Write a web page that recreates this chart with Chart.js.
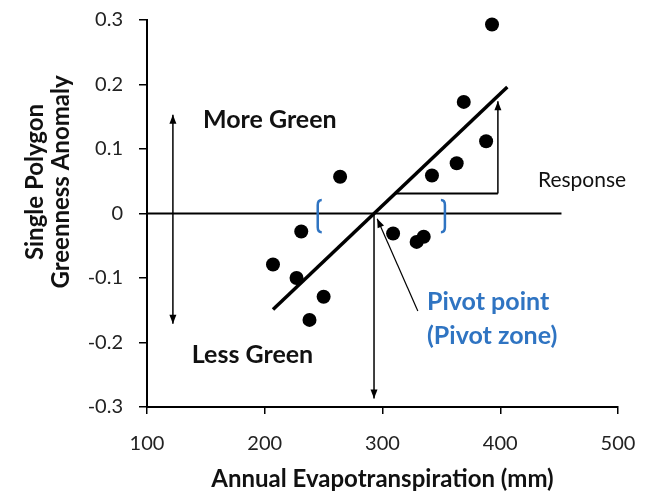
<!DOCTYPE html>
<html>
<head>
<meta charset="utf-8">
<script src="https://cdn.jsdelivr.net/npm/chart.js@4.4.1/dist/chart.umd.min.js"></script>
<style>
  html, body { margin: 0; padding: 0; background: #fff; }
</style>
</head>
<body>
<canvas id="myChart" width="652" height="495"></canvas>
<script>
// annual ET (mm) vs. greenness anomaly, one point per polygon-year
var etValues = [207, 227, 231, 238, 250, 264, 309, 329, 335, 342, 363, 369, 388, 393];
var anomalyValues = [-0.079, -0.100, -0.028, -0.165, -0.129, 0.057, -0.031, -0.044, -0.036, 0.059, 0.078, 0.173, 0.112, 0.293];

// fitted line, end points
var trendX = [207, 406];
var trendY = [-0.149, 0.196];

// zero reference line
var zeroX = [100, 452];
var zeroY = [0, 0];

var yTicks = [-0.3, -0.2, -0.1, 0, 0.1, 0.2, 0.3];
var yTickLabels = ['-0.3', '-0.2', '-0.1', '0', '0.1', '0.2', '0.3'];

// arrows, in axis units: [x1, y1, x2, y2]
var pivotDrop = [292.8, 0, 292.8, -0.287];
var greenArrow = [122, -0.171, 122, 0.153];
var responseRun = [311, 0.031, 398, 0.031];
var responseRise = [398, 0.031, 398, 0.174];
var pivotPointer = [330, -0.151, 295.5, -0.008];

// pivot zone brackets: x positions and vertical extent
var bracketX = [245, 353];
var bracketY = [0.021, -0.029];

var blue = '#2f74c2';

function toXY(xs, ys) {
    return xs.map(function (x, i) { return { x: x, y: ys[i] }; });
}

var notes = {
    id: 'notes',
    afterDatasetsDraw: function (chart) {
        var ctx = chart.ctx;
        var sx = chart.scales.x, sy = chart.scales.y;
        function px(v) { return sx.getPixelForValue(v); }
        function py(v) { return sy.getPixelForValue(v); }

        function head(x1, y1, x2, y2) {
            var a = Math.atan2(y2 - y1, x2 - x1);
            var len = 9, w = 3.5;
            ctx.beginPath();
            ctx.moveTo(x2, y2);
            ctx.lineTo(x2 - len * Math.cos(a) + w * Math.sin(a), y2 - len * Math.sin(a) - w * Math.cos(a));
            ctx.lineTo(x2 - len * Math.cos(a) - w * Math.sin(a), y2 - len * Math.sin(a) + w * Math.cos(a));
            ctx.closePath();
            ctx.fill();
        }
        function arrow(seg, startHead, endHead, lw) {
            var x1 = px(seg[0]), y1 = py(seg[1]), x2 = px(seg[2]), y2 = py(seg[3]);
            ctx.lineWidth = lw;
            ctx.beginPath();
            ctx.moveTo(x1, y1);
            ctx.lineTo(x2, y2);
            ctx.stroke();
            if (endHead) head(x1, y1, x2, y2);
            if (startHead) head(x2, y2, x1, y1);
        }

        ctx.save();
        ctx.strokeStyle = '#000';
        ctx.fillStyle = '#000';
        arrow(greenArrow, true, true, 1.5);
        arrow(pivotDrop, false, true, 1.5);
        arrow(responseRun, false, false, 2);
        arrow(responseRise, false, true, 1.5);
        arrow(pivotPointer, false, true, 1.2);

        // brackets around the pivot zone
        ctx.strokeStyle = blue;
        ctx.lineWidth = 2.5;
        bracketX.forEach(function (bx, i) {
            var x = px(bx), top = py(bracketY[0]), bot = py(bracketY[1]);
            var d = i === 0 ? 4 : -4;
            ctx.beginPath();
            ctx.moveTo(x + d, top);
            ctx.quadraticCurveTo(x, top, x, top + 5);
            ctx.lineTo(x, bot - 5);
            ctx.quadraticCurveTo(x, bot, x + d, bot);
            ctx.stroke();
        });

        // labels
        ctx.textBaseline = 'middle';
        ctx.textAlign = 'left';
        ctx.fillStyle = '#111';
        ctx.font = 'bold 25px Lato';
        ctx.fillText('More Green', px(147.5), py(0.145));
        ctx.fillText('Less Green', px(138), py(-0.219));
        ctx.font = '21px Lato';
        ctx.fillText('Response', px(432), py(0.052));
        ctx.fillStyle = blue;
        ctx.font = 'bold 25px Lato';
        ctx.fillText('Pivot point', px(337.8), py(-0.137));
        ctx.fillText('(Pivot zone)', px(337.8), py(-0.19));

        // y axis title, two lines
        ctx.fillStyle = '#111';
        ctx.font = 'bold 24px Lato';
        ctx.textAlign = 'center';
        ctx.translate(0, 182);
        ctx.rotate(-Math.PI / 2);
        ctx.fillText('Single Polygon', 0, 35);
        ctx.fillText('Greenness Anomaly', 0, 61);
        ctx.restore();
    }
};

var ctx = document.getElementById('myChart');
var myChart = new Chart(ctx, {
    type: 'scatter',
    data: {
        datasets: [{
            label: 'zero',
            data: toXY(zeroX, zeroY),
            showLine: true,
            borderColor: '#000',
            borderWidth: 2,
            pointRadius: 0
        }, {
            label: 'fit',
            data: toXY(trendX, trendY),
            showLine: true,
            borderColor: '#000',
            borderWidth: 3.5,
            pointRadius: 0
        }, {
            label: 'polygons',
            data: toXY(etValues, anomalyValues),
            backgroundColor: '#000',
            borderWidth: 0,
            pointRadius: 7,
            clip: false
        }]
    },
    options: {
        responsive: false,
        animation: false,
        layout: { padding: { top: 20, right: 34, left: 0, bottom: 0 } },
        plugins: {
            legend: { display: false },
            tooltip: { enabled: false }
        },
        scales: {
            x: {
                type: 'linear',
                min: 100,
                max: 500,
                ticks: { stepSize: 100, padding: 18, color: '#222', font: { family: 'Lato', size: 20 } },
                grid: { drawOnChartArea: false, drawTicks: true, tickLength: 7, color: '#000', lineWidth: 1.5 },
                border: { color: '#000', width: 2 },
                title: {
                    display: true,
                    text: 'Annual Evapotranspiration (mm)',
                    color: '#111',
                    font: { family: 'Lato', size: 24, weight: 'bold' },
                    padding: { top: 0, bottom: 1 }
                },
                afterFit: function (s) {
                    s.height = 88;
                    s.paddingLeft = 0;
                    s.paddingRight = 0;
                }
            },
            y: {
                type: 'linear',
                min: -0.3,
                max: 0.3,
                afterBuildTicks: function (s) {
                    s.ticks = yTicks.map(function (v) { return { value: v }; });
                },
                ticks: {
                    padding: 16,
                    color: '#222',
                    font: { family: 'Lato', size: 20 },
                    callback: function (v, i) { return yTickLabels[i]; }
                },
                grid: { drawOnChartArea: false, drawTicks: true, tickLength: 8, color: '#000', lineWidth: 1.5 },
                border: { color: '#000', width: 2 },
                afterFit: function (s) {
                    s.width = 147;
                    s.paddingTop = 0;
                    s.paddingBottom = 0;
                }
            }
        }
    },
    plugins: [notes]
});
</script>
</body>
</html>
